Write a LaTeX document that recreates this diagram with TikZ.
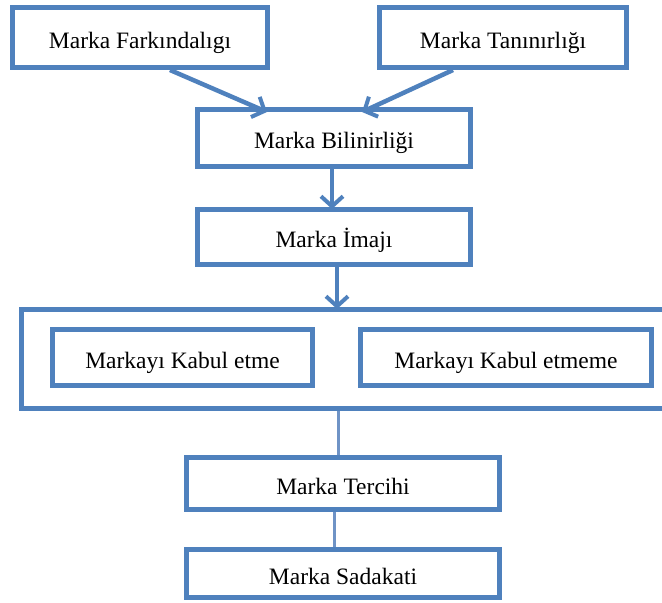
\documentclass[tikz,border=0pt]{standalone}
\usepackage{fontspec}
\setmainfont{Liberation Serif}
\usetikzlibrary{arrows.meta}
\definecolor{boxblue}{HTML}{4F81BD}
\definecolor{linkblue}{HTML}{6F93C6}
\begin{document}
\begin{tikzpicture}[x=1pt,y=-1pt,
  every node/.style={font=\fontsize{23.5}{28}\selectfont, text=black},
  stepbox/.style={draw=boxblue, line width=5pt, rectangle, inner sep=0pt, fill=white,
    text height=21pt, text depth=0pt},
  flow/.style={draw=boxblue, line width=4.5pt,
    -{Straight Barb[length=10pt,width=22pt,line width=4pt]}},
  link/.style={draw=linkblue, line width=3pt}]
  \useasboundingbox (0,0) rectangle (662,603);
  \clip (0,0) rectangle (662,603);

  % top row
  \node[stepbox, minimum width=255pt, minimum height=60pt] (fark) at (140,37.5) {Marka Farkındalıgı};
  \node[stepbox, minimum width=247pt, minimum height=60pt] (tani) at (503,37.5) {Marka Tanınırlığı};

  % middle chain
  \node[stepbox, minimum width=273pt, minimum height=57pt] (bilin) at (334,138) {Marka Bilinirliği};
  \node[stepbox, minimum width=273pt, minimum height=55pt] (imaj) at (334,237) {Marka İmajı};

  % acceptance group
  \node[stepbox, minimum width=660pt, minimum height=99pt] (group) at (351.5,359) {};
  \node[stepbox, minimum width=260pt, minimum height=56pt] (kabul) at (182.5,357.5) {Markayı Kabul etme};
  \node[stepbox, minimum width=291pt, minimum height=56pt] (red) at (506,357.5) {Markayı Kabul etmeme};

  % bottom chain
  \node[stepbox, minimum width=313pt, minimum height=52pt] (tercih) at (343,483.5) {Marka Tercihi};
  \node[stepbox, minimum width=313pt, minimum height=48pt] (sadakat) at (343,573.5) {Marka Sadakati};

  % connectors
  \draw[flow] ([xshift=30pt]fark.south) -- ([xshift=-67pt,yshift=-5pt]bilin.north);
  \draw[flow] ([xshift=-50pt]tani.south) -- ([xshift=28pt,yshift=-5pt]bilin.north);
  \draw[flow] ([xshift=-2pt]bilin.south) -- ([xshift=-2pt,yshift=-2pt]imaj.north);
  \draw[flow] ([xshift=3pt]imaj.south) -- ([xshift=-14.5pt,yshift=-2pt]group.north);
  \draw[link] ([xshift=-13.5pt]group.south) -- ([xshift=-5pt]tercih.north);
  \draw[link] ([xshift=-9pt]tercih.south) -- ([xshift=-9pt]sadakat.north);
\end{tikzpicture}
\end{document}
